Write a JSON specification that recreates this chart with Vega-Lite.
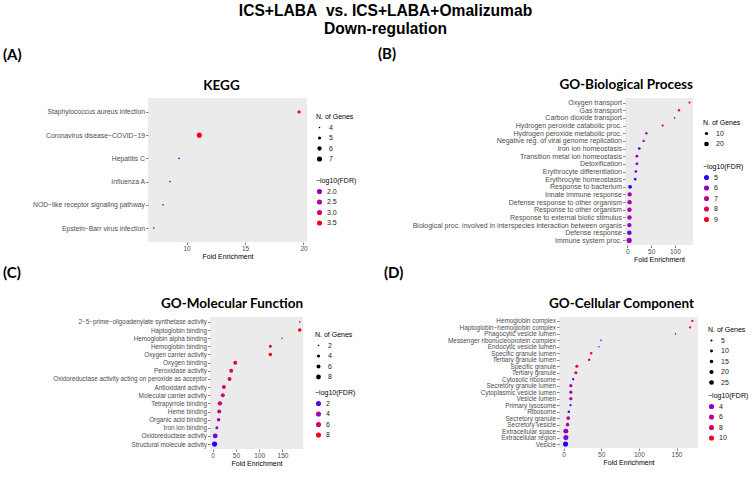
{
  "$schema": "https://vega.github.io/schema/vega-lite/v6.json",
  "padding": {"left": 2, "top": 3, "right": 0, "bottom": 0},
  "title": {"text": ["ICS+LABA\u00a0 vs. ICS+LABA+Omalizumab", "Down-regulation"], "font": "Liberation Sans", "fontSize": 15.6, "fontWeight": "bold", "lineHeight": 18, "anchor": "middle", "dx": 10, "offset": 9, "color": "#000000"},
  "datasets": {
    "kegg": [
      {"term": "Staphylococcus aureus infection", "fold": 19.62, "genes": 5, "fdr": 3.6},
      {"term": "Coronavirus disease\u2212COVID\u221219", "fold": 11.09, "genes": 7, "fdr": 3.55},
      {"term": "Hepatitis C", "fold": 9.36, "genes": 4, "fdr": 1.58},
      {"term": "Influenza A", "fold": 8.59, "genes": 4, "fdr": 1.58},
      {"term": "NOD\u2212like receptor signaling pathway", "fold": 7.98, "genes": 4, "fdr": 1.58},
      {"term": "Epstein\u2212Barr virus infection", "fold": 7.2, "genes": 4, "fdr": 1.57}
    ],
    "bp": [
      {"term": "Oxygen transport", "fold": 130.7, "genes": 5, "fdr": 9.2},
      {"term": "Gas transport", "fold": 108.6, "genes": 6, "fdr": 9.0},
      {"term": "Carbon dioxide transport", "fold": 99.3, "genes": 3, "fdr": 5.5},
      {"term": "Hydrogen peroxide catabolic proc.", "fold": 74.3, "genes": 5, "fdr": 7.4},
      {"term": "Hydrogen peroxide metabolic proc.", "fold": 40.0, "genes": 6, "fdr": 6.5},
      {"term": "Negative reg. of viral genome replication", "fold": 34.3, "genes": 6, "fdr": 6.2},
      {"term": "Iron ion homeostasis", "fold": 25.0, "genes": 7, "fdr": 5.05},
      {"term": "Transition metal ion homeostasis", "fold": 20.0, "genes": 8, "fdr": 6.0},
      {"term": "Detoxification", "fold": 20.0, "genes": 8, "fdr": 6.0},
      {"term": "Erythrocyte differentiation", "fold": 17.9, "genes": 7, "fdr": 5.15},
      {"term": "Erythrocyte homeostasis", "fold": 16.4, "genes": 7, "fdr": 5.15},
      {"term": "Response to bacterium", "fold": 5.7, "genes": 14, "fdr": 4.95},
      {"term": "Innate immune response", "fold": 4.8, "genes": 17, "fdr": 6.4},
      {"term": "Defense response to other organism", "fold": 4.6, "genes": 18, "fdr": 6.6},
      {"term": "Response to other organism", "fold": 4.4, "genes": 18, "fdr": 6.5},
      {"term": "Response to external biotic stimulus", "fold": 4.4, "genes": 18, "fdr": 6.5},
      {"term": "Biological proc. involved in interspecies interaction between organis", "fold": 4.2, "genes": 18, "fdr": 6.0},
      {"term": "Defense response", "fold": 4.1, "genes": 20, "fdr": 5.5},
      {"term": "Immune system proc.", "fold": 3.8, "genes": 24, "fdr": 6.3}
    ],
    "mf": [
      {"term": "2\u22125\u2212prime\u2212oligoadenylate synthetase activity", "fold": 187, "genes": 2, "fdr": 4.8},
      {"term": "Haptoglobin binding", "fold": 187, "genes": 5, "fdr": 8.3},
      {"term": "Hemoglobin alpha binding", "fold": 149, "genes": 2, "fdr": 4.5},
      {"term": "Hemoglobin binding", "fold": 124, "genes": 4, "fdr": 5.2},
      {"term": "Oxygen carrier activity", "fold": 124, "genes": 5, "fdr": 8.0},
      {"term": "Oxygen binding", "fold": 48.6, "genes": 6, "fdr": 6.6},
      {"term": "Peroxidase activity", "fold": 40.0, "genes": 6, "fdr": 6.6},
      {"term": "Oxidoreductase activity acting on peroxide as acceptor", "fold": 36.4, "genes": 6, "fdr": 6.5},
      {"term": "Antioxidant activity", "fold": 24.3, "genes": 6, "fdr": 6.0},
      {"term": "Molecular carrier activity", "fold": 22.0, "genes": 6, "fdr": 5.4},
      {"term": "Tetrapyrrole binding", "fold": 15.7, "genes": 7, "fdr": 5.2},
      {"term": "Heme binding", "fold": 14.3, "genes": 6, "fdr": 4.8},
      {"term": "Organic acid binding", "fold": 12.9, "genes": 5, "fdr": 4.2},
      {"term": "Iron ion binding", "fold": 9.3, "genes": 4, "fdr": 2.6},
      {"term": "Oxidoreductase activity", "fold": 5.7, "genes": 8, "fdr": 2.6},
      {"term": "Structural molecule activity", "fold": 4.3, "genes": 9, "fdr": 1.5}
    ],
    "cc": [
      {"term": "Hemoglobin complex", "fold": 171, "genes": 6, "fdr": 10.5},
      {"term": "Haptoglobin\u2212hemoglobin complex", "fold": 168, "genes": 6, "fdr": 10.2},
      {"term": "Phagocytic vesicle lumen", "fold": 148.7, "genes": 3, "fdr": 4.0},
      {"term": "Messenger ribonucleoprotein complex", "fold": 49.6, "genes": 3, "fdr": 2.4},
      {"term": "Endocytic vesicle lumen", "fold": 47.0, "genes": 3, "fdr": 3.8},
      {"term": "Specific granule lumen", "fold": 36.7, "genes": 7, "fdr": 8.6},
      {"term": "Tertiary granule lumen", "fold": 34.0, "genes": 7, "fdr": 7.9},
      {"term": "Specific granule", "fold": 17.7, "genes": 11, "fdr": 8.6},
      {"term": "Tertiary granule", "fold": 16.4, "genes": 11, "fdr": 7.9},
      {"term": "Cytosolic ribosome", "fold": 12.8, "genes": 6, "fdr": 2.5},
      {"term": "Secretory granule lumen", "fold": 9.7, "genes": 12, "fdr": 5.8},
      {"term": "Cytoplasmic vesicle lumen", "fold": 9.7, "genes": 12, "fdr": 5.7},
      {"term": "Vesicle lumen", "fold": 9.7, "genes": 12, "fdr": 5.7},
      {"term": "Primary lysosome", "fold": 9.3, "genes": 6, "fdr": 2.5},
      {"term": "Ribosome", "fold": 7.0, "genes": 7, "fdr": 2.4},
      {"term": "Secretory granule", "fold": 6.2, "genes": 15, "fdr": 6.0},
      {"term": "Secretory vesicle", "fold": 5.3, "genes": 15, "fdr": 5.9},
      {"term": "Extracellular space", "fold": 3.1, "genes": 27, "fdr": 4.0},
      {"term": "Extracellular region", "fold": 3.1, "genes": 28, "fdr": 4.0},
      {"term": "Vesicle", "fold": 2.7, "genes": 29, "fdr": 2.2}
    ],
    "none": []
  },
  "columns": 1,
  "spacing": 3,
  "resolve": {"scale": {"color": "independent", "size": "independent", "x": "independent", "y": "independent"}, "legend": {"color": "independent", "size": "independent"}},
  "concat": [
    {
      "spacing": 0,
      "resolve": {"scale": {"color": "independent", "size": "independent", "x": "independent", "y": "independent"}, "legend": {"color": "independent", "size": "independent"}},
      "hconcat": [
        {"width": 1, "height": 1, "data": {"name": "none"}, "mark": "point", "encoding": {}, "view": {"fill": null, "stroke": null}},
        {
          "spacing": 21,
          "resolve": {"scale": {"color": "independent", "size": "independent", "x": "independent", "y": "independent"}, "legend": {"color": "independent", "size": "independent"}},
          "hconcat": [
            {
              "title": {"text": "(A)", "anchor": "start", "frame": "bounds", "font": "Lato", "fontSize": 15, "fontWeight": "bold", "offset": 16, "color": "#000000"},
              "vconcat": [
                {
                  "title": {"text": "KEGG", "anchor": "middle", "frame": "group", "dx": -6, "font": "Lato", "fontSize": 13.5, "fontWeight": "bold", "offset": 6, "color": "#000000"},
                  "width": 159, "height": 144,
                  "data": {"name": "kegg"},
                  "mark": {"type": "circle", "opacity": 1},
                  "encoding": {
                    "y": {"field": "term", "type": "nominal", "sort": null, "scale": {"type": "point", "padding": 0.6}, "axis": {"title": null, "minExtent": 145, "labelFontSize": 6.8}},
                    "x": {"field": "fold", "type": "quantitative", "scale": {"domain": [6.7, 20.3], "nice": false, "zero": false}, "axis": {"values": [10, 15, 20], "title": "Fold Enrichment"}},
                    "size": {"field": "genes", "type": "quantitative", "scale": {"domain": [4, 7], "range": [2.5, 26], "zero": false, "nice": false}, "legend": {"title": "N. of Genes", "values": [4, 5, 6, 7], "format": "d", "orient": "none", "legendX": 168, "legendY": 15, "symbolFillColor": "#000000", "symbolOpacity": 1}},
                    "color": {"field": "fdr", "type": "quantitative", "scale": {"domain": [1.55, 3.65], "range": ["#0000FF", "#FF0000"], "interpolate": "lab", "zero": false, "nice": false}, "legend": {"title": "\u2212log10(FDR)", "type": "symbol", "values": [2.0, 2.5, 3.0, 3.5], "format": ".1f", "orient": "none", "legendX": 168, "legendY": 79, "symbolSize": 26, "symbolOpacity": 1, "labelOffset": 4}}
                  }
                }
              ]
            },
            {
              "title": {"text": "(B)", "anchor": "start", "frame": "bounds", "font": "Lato", "fontSize": 15, "fontWeight": "bold", "offset": 16, "color": "#000000"},
              "vconcat": [
                {
                  "title": {"text": "GO-Biological Process", "anchor": "end", "frame": "group", "font": "Lato", "fontSize": 13.5, "fontWeight": "bold", "offset": 7, "color": "#000000"},
                  "width": 68, "height": 147,
                  "data": {"name": "bp"},
                  "mark": {"type": "circle", "opacity": 1},
                  "encoding": {
                    "y": {"field": "term", "type": "nominal", "sort": null, "scale": {"type": "point", "padding": 0.6}, "axis": {"title": null, "minExtent": 247, "labelFontSize": 7.0}},
                    "x": {"field": "fold", "type": "quantitative", "scale": {"domain": [-5, 138], "nice": false, "zero": false}, "axis": {"values": [0, 50, 100], "title": "Fold Enrichment"}},
                    "size": {"field": "genes", "type": "quantitative", "scale": {"domain": [3, 24], "range": [2.5, 26], "zero": false, "nice": false}, "legend": {"title": "N. of Genes", "values": [10, 20], "format": "d", "orient": "none", "legendX": 78, "legendY": 21, "symbolFillColor": "#000000", "symbolOpacity": 1}},
                    "color": {"field": "fdr", "type": "quantitative", "scale": {"domain": [4.9, 9.3], "range": ["#0000FF", "#FF0000"], "interpolate": "lab", "zero": false, "nice": false}, "legend": {"title": "\u2212log10(FDR)", "type": "symbol", "values": [5, 6, 7, 8, 9], "format": "d", "orient": "none", "legendX": 78, "legendY": 65, "symbolSize": 26, "symbolOpacity": 1, "labelOffset": 4}}
                  }
                }
              ]
            }
          ]
        }
      ]
    },
    {
      "spacing": 0,
      "resolve": {"scale": {"color": "independent", "size": "independent", "x": "independent", "y": "independent"}, "legend": {"color": "independent", "size": "independent"}},
      "hconcat": [
        {"width": 1, "height": 1, "data": {"name": "none"}, "mark": "point", "encoding": {}, "view": {"fill": null, "stroke": null}},
        {
          "spacing": 28,
          "resolve": {"scale": {"color": "independent", "size": "independent", "x": "independent", "y": "independent"}, "legend": {"color": "independent", "size": "independent"}},
          "hconcat": [
            {
              "title": {"text": "(C)", "anchor": "start", "frame": "bounds", "font": "Lato", "fontSize": 15, "fontWeight": "bold", "offset": 16, "color": "#000000"},
              "vconcat": [
                {
                  "title": {"text": "GO-Molecular Function", "anchor": "end", "frame": "group", "font": "Lato", "fontSize": 13.5, "fontWeight": "bold", "offset": 7, "color": "#000000"},
                  "width": 93, "height": 132,
                  "data": {"name": "mf"},
                  "mark": {"type": "circle", "opacity": 1},
                  "encoding": {
                    "y": {"field": "term", "type": "nominal", "sort": null, "scale": {"type": "point", "padding": 0.6}, "axis": {"title": null, "minExtent": 207, "labelFontSize": 6.35}},
                    "x": {"field": "fold", "type": "quantitative", "scale": {"domain": [-5.5, 194], "nice": false, "zero": false}, "axis": {"values": [0, 50, 100, 150], "title": "Fold Enrichment"}},
                    "size": {"field": "genes", "type": "quantitative", "scale": {"domain": [2, 9], "range": [2.5, 26], "zero": false, "nice": false}, "legend": {"title": "N. of Genes", "values": [2, 4, 6, 8], "format": "d", "orient": "none", "legendX": 105, "legendY": 14, "symbolFillColor": "#000000", "symbolOpacity": 1}},
                    "color": {"field": "fdr", "type": "quantitative", "scale": {"domain": [1.4, 8.3], "range": ["#0000FF", "#FF0000"], "interpolate": "lab", "zero": false, "nice": false}, "legend": {"title": "\u2212log10(FDR)", "type": "symbol", "values": [2, 4, 6, 8], "format": "d", "orient": "none", "legendX": 105, "legendY": 72, "symbolSize": 26, "symbolOpacity": 1, "labelOffset": 4}}
                  }
                }
              ]
            },
            {
              "title": {"text": "(D)", "anchor": "start", "frame": "bounds", "font": "Lato", "fontSize": 15, "fontWeight": "bold", "offset": 16, "color": "#000000"},
              "vconcat": [
                {
                  "title": {"text": "GO-Cellular Component", "anchor": "end", "frame": "group", "dx": -4, "font": "Lato", "fontSize": 13.5, "fontWeight": "bold", "offset": 7, "color": "#000000"},
                  "width": 139, "height": 131,
                  "data": {"name": "cc"},
                  "mark": {"type": "circle", "opacity": 1},
                  "encoding": {
                    "y": {"field": "term", "type": "nominal", "sort": null, "scale": {"type": "point", "padding": 0.6}, "axis": {"title": null, "minExtent": 175, "labelFontSize": 6.4}},
                    "x": {"field": "fold", "type": "quantitative", "scale": {"domain": [-6, 178.5], "nice": false, "zero": false}, "axis": {"values": [0, 50, 100, 150], "title": "Fold Enrichment"}},
                    "size": {"field": "genes", "type": "quantitative", "scale": {"domain": [3, 29], "range": [2.5, 26], "zero": false, "nice": false}, "legend": {"title": "N. of Genes", "values": [5, 10, 15, 20, 25], "format": "d", "orient": "none", "legendX": 149, "legendY": 9, "symbolFillColor": "#000000", "symbolOpacity": 1}},
                    "color": {"field": "fdr", "type": "quantitative", "scale": {"domain": [2.1, 10.6], "range": ["#0000FF", "#FF0000"], "interpolate": "lab", "zero": false, "nice": false}, "legend": {"title": "\u2212log10(FDR)", "type": "symbol", "values": [4, 6, 8, 10], "format": "d", "orient": "none", "legendX": 149, "legendY": 75, "symbolSize": 26, "symbolOpacity": 1, "labelOffset": 4}}
                  }
                }
              ]
            }
          ]
        }
      ]
    }
  ],
  "config": {
    "font": "Liberation Sans",
    "view": {"stroke": null, "fill": "#EBEBEB"},
    "axis": {"domain": false, "grid": false, "labelFont": "Liberation Sans", "labelFontSize": 6.5, "labelColor": "#4D4D4D", "tickColor": "#333333", "tickSize": 2.5, "tickWidth": 0.6, "labelPadding": 1, "titleFont": "Liberation Sans", "titleFontSize": 7, "titleFontWeight": "normal", "titleColor": "#000000", "titlePadding": 0, "labelLimit": 400},
    "legend": {"titleFont": "Liberation Sans", "titleFontSize": 7, "titleFontWeight": "normal", "titleColor": "#000000", "labelFont": "Liberation Sans", "labelFontSize": 7, "labelColor": "#1A1A1A", "rowPadding": 2.5, "titlePadding": 4, "labelOffset": 6, "symbolStrokeWidth": 0}
  }
}
